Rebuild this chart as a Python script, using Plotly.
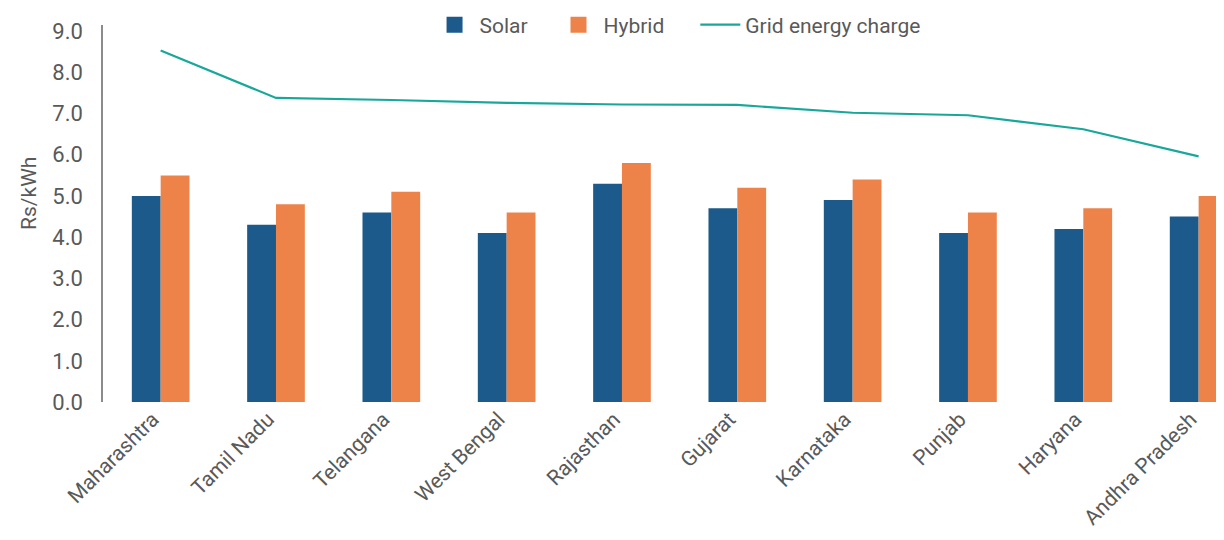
import plotly.graph_objects as go

states = ["Maharashtra", "Tamil Nadu", "Telangana", "West Bengal", "Rajasthan",
          "Gujarat", "Karnataka", "Punjab", "Haryana", "Andhra Pradesh"]
solar = [5.0, 4.3, 4.6, 4.1, 5.3, 4.7, 4.9, 4.1, 4.2, 4.5]
hybrid = [5.5, 4.8, 5.1, 4.6, 5.8, 5.2, 5.4, 4.6, 4.7, 5.0]
grid_charge = [8.53, 7.38, 7.33, 7.26, 7.22, 7.21, 7.02, 6.96, 6.62, 5.96]
y_ticks = [0, 1, 2, 3, 4, 5, 6, 7, 8, 9]
y_tick_labels = ["0.0", "1.0", "2.0", "3.0", "4.0", "5.0", "6.0", "7.0", "8.0", "9.0"]

C_SOLAR = "#1B5A8B"
C_HYBRID = "#EE834A"
C_GRID = "#17A89A"
TXT = "#595959"
FONT = "Roboto"
NB = "\u00a0"

fig = go.Figure()
fig.add_trace(go.Bar(x=states, y=solar, name="Solar", marker_color=C_SOLAR,
                     marker_line_width=0, showlegend=False))
fig.add_trace(go.Bar(x=states, y=hybrid, name="Hybrid", marker_color=C_HYBRID,
                     marker_line_width=0, showlegend=False))
fig.add_trace(go.Scatter(x=states, y=grid_charge, name="Grid energy charge", mode="lines",
                         line=dict(color=C_GRID, width=2.2), showlegend=False))

# legend proxies
fig.add_trace(go.Scatter(x=[None], y=[None], mode="markers", name="Solar" + NB * 4,
                         marker=dict(symbol="square", size=20, color=C_SOLAR)))
fig.add_trace(go.Scatter(x=[None], y=[None], mode="markers", name="Hybrid" + NB * 5,
                         marker=dict(symbol="square", size=20, color=C_HYBRID)))
fig.add_trace(go.Scatter(x=[None], y=[None], mode="lines", name="Grid energy charge",
                         line=dict(color=C_GRID, width=2.2)))

fig.update_layout(
    width=1216, height=532,
    margin=dict(l=95, r=0, t=17, b=138, autoexpand=False),
    paper_bgcolor="white", plot_bgcolor="white",
    barmode="group", bargap=0.5, bargroupgap=0,
    font=dict(family=FONT, size=21, color=TXT),
    legend=dict(orientation="h", x=0.2913, xanchor="left", y=1.0, yanchor="middle",
                font=dict(family=FONT, size=21, color=TXT), itemwidth=40,
                bgcolor="rgba(0,0,0,0)", traceorder="normal"),
    xaxis=dict(range=[-0.5, 9.22], showline=False, showgrid=False, zeroline=False,
               automargin=False, ticklabelshift=-8,
               tickangle=-45, ticks="", tickfont=dict(family=FONT, size=21, color=TXT)),
    yaxis=dict(range=[0, 9.15], showline=True, linecolor="#8C8C8C", linewidth=1.5,
               automargin=False,
               showgrid=False, zeroline=False, ticks="", tickvals=y_ticks,
               ticktext=y_tick_labels, ticklabelstandoff=14,
               tickfont=dict(family=FONT, size=22, color=TXT)),
    annotations=[dict(text="Rs/kWh", xref="paper", yref="paper", x=-0.066, y=0.552,
                      textangle=-90, showarrow=False, xanchor="center", yanchor="middle",
                      font=dict(family=FONT, size=21, color=TXT))],
)

fig.write_html("out.html")
